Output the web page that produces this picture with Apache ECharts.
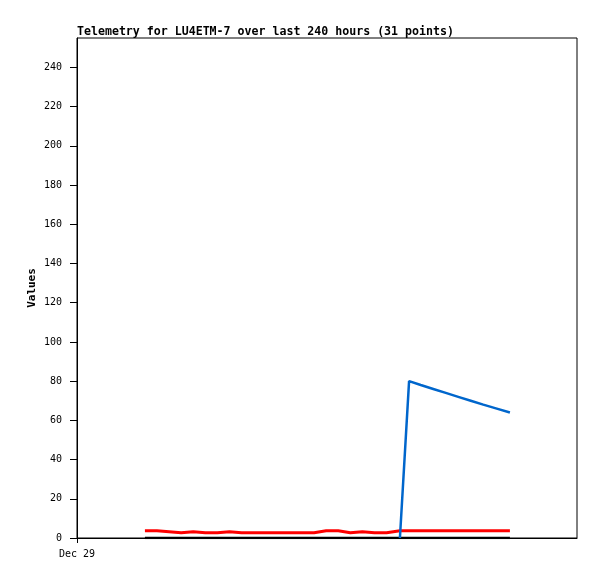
<!DOCTYPE html>
<html>
<head>
<meta charset="utf-8">
<script src="https://cdn.jsdelivr.net/npm/echarts@6/dist/echarts.min.js"></script>
<style>
  html, body { margin: 0; padding: 0; background: #fff; }
  #telemetryChart { width: 597px; height: 579px; }
</style>
</head>
<body>
<div id="telemetryChart"></div>
<script>
// hours since Dec 29 00:00
const hours = [32.6, 38.4, 44.2, 50.0, 55.8, 61.6, 67.4, 73.2, 79.0, 84.8, 90.6,
  96.4, 102.2, 108.0, 113.8, 119.6, 125.4, 131.2, 137.0, 142.8, 148.6, 155.0,
  159.4, 165.0, 171.0, 177.0, 183.0, 189.0, 195.0, 201.5, 207.8];
// black channel
const chanBlack = [0, 0, 0, 0, 0, 0, 0, 0, 0, 0, 0, 0, 0, 0, 0, 0, 0, 0, 0, 0,
  0, 0, 0, 0, 0, 0, 0, 0, 0, 0, 0];
// red channel
const chanRed = [3.7, 3.7, 3.2, 2.7, 3.2, 2.7, 2.7, 3.2, 2.7, 2.7, 2.7, 2.7, 2.7,
  2.7, 2.7, 3.7, 3.7, 2.7, 3.2, 2.7, 2.7, 3.7, 3.7, 3.7, 3.7, 3.7, 3.7, 3.7, 3.7,
  3.7, 3.7];
// blue channel (starts at index 21)
const chanBlue = [null, null, null, null, null, null, null, null, null, null, null,
  null, null, null, null, null, null, null, null, null, null, 0, 80, 78, 76, 74,
  72, 70, 68, 66, 64];
const yTicks = [0, 20, 40, 60, 80, 100, 120, 140, 160, 180, 200, 220, 240];
const xLabels = { 0: "Dec 29" };

const mono = "DejaVu Sans Mono";

function pairs(vals) {
  return hours.map((h, i) => [h, vals[i]]);
}

const chart = echarts.init(document.getElementById("telemetryChart"));
const option = {
  animation: false,
  backgroundColor: "#fff",
  title: {
    text: "Telemetry for LU4ETM-7 over last 240 hours (31 points)",
    left: 77,
    top: 26,
    padding: 0,
    textStyle: {
      fontFamily: mono,
      fontSize: 11.6,
      fontWeight: "bold",
      color: "#000"
    }
  },
  grid: {
    left: 77,
    right: 20,
    top: 38,
    bottom: 41,
    show: true,
    borderColor: "#000",
    borderWidth: 1
  },
  xAxis: {
    type: "value",
    min: 0,
    max: 240,
    splitLine: { show: false },
    axisLine: { lineStyle: { color: "#000", width: 1 } },
    axisTick: { customValues: [0], length: 5, lineStyle: { color: "#000" } },
    axisLabel: {
      customValues: [0],
      formatter: v => xLabels[v] || "",
      fontFamily: mono,
      fontSize: 10,
      color: "#000",
      margin: 11
    }
  },
  yAxis: {
    type: "value",
    min: 0,
    max: 255,
    name: "Values",
    nameLocation: "middle",
    nameRotate: 90,
    nameGap: 39,
    nameMoveOverlap: false,
    nameTextStyle: {
      fontFamily: mono,
      fontSize: 11,
      fontWeight: "bold",
      color: "#000"
    },
    splitLine: { show: false },
    axisLine: { show: true, lineStyle: { color: "#000", width: 1 } },
    axisTick: { customValues: yTicks, length: 7, lineStyle: { color: "#000" } },
    axisLabel: {
      customValues: yTicks,
      fontFamily: mono,
      fontSize: 10,
      color: "#000",
      margin: 15
    }
  },
  series: [
    {
      name: "black",
      type: "line",
      data: pairs(chanBlack),
      showSymbol: false,
      lineStyle: { color: "#000", width: 2.5 },
      z: 2
    },
    {
      name: "red",
      type: "line",
      data: pairs(chanRed),
      showSymbol: false,
      lineStyle: { color: "#ff0000", width: 3 },
      z: 3
    },
    {
      name: "blue",
      type: "line",
      data: pairs(chanBlue),
      showSymbol: false,
      lineStyle: { color: "#0066cc", width: 2.5 },
      z: 4
    }
  ]
};
chart.setOption(option);
</script>
</body>
</html>
